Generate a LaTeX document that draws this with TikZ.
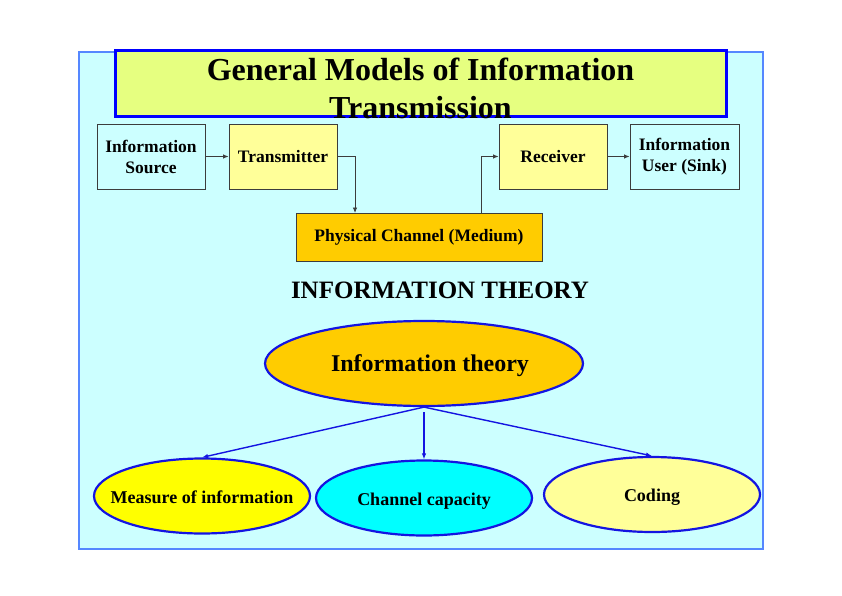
\documentclass[tikz,border=0pt]{standalone}
\usepackage{fontspec}
\setmainfont{Liberation Serif}
\usetikzlibrary{shapes.geometric,arrows.meta}

\definecolor{panelfill}{RGB}{204,255,255}
\definecolor{paneledge}{RGB}{85,135,255}
\definecolor{titlefill}{RGB}{230,255,128}
\definecolor{titleedge}{RGB}{0,0,255}
\definecolor{paleyellow}{RGB}{255,255,153}
\definecolor{amber}{RGB}{255,204,0}
\definecolor{brightyellow}{RGB}{255,255,0}
\definecolor{aqua}{RGB}{0,255,255}
\definecolor{boxedge}{RGB}{60,60,60}
\definecolor{ovaledge}{RGB}{20,20,225}

% oval labels are set in a zero-width box so the ellipse keeps its given size
\newcommand{\ovaltext}[1]{\makebox[0pt]{#1}}

\tikzset{
  blockbox/.style={draw=boxedge, line width=0.9pt, minimum width=108pt, minimum height=65pt,
    inner sep=0pt, align=center, font=\bfseries\fontsize{17.5}{21}\selectfont},
  flow/.style={draw=boxedge, line width=0.8pt, -{Latex[length=5.5pt,width=4.5pt]}},
  oval/.style={ellipse, draw=ovaledge, line width=2.2pt, inner sep=0pt, text depth=0pt},
  smalloval/.style={oval, minimum width=216pt, minimum height=75pt, text height=14pt,
    font=\bfseries\fontsize{18}{21}\selectfont},
  branch/.style={draw=ovaledge, line width=1.4pt, -{Latex[length=6pt,width=4.5pt]}},
}

\begin{document}
\begin{tikzpicture}[x=1pt,y=-1pt]
\useasboundingbox (0,0) rectangle (842,596);

% background panel
\draw[fill=panelfill, draw=paneledge, line width=1.6pt] (79,52) rectangle (763,549);

% title banner
\node[draw=titleedge, fill=titlefill, line width=3pt, minimum width=611pt, minimum height=66pt,
      inner sep=0pt] (title) at (420.5,84) {};
\node[align=center, font=\bfseries\fontsize{32}{38}\selectfont, yshift=-4pt] (titletext)
      at (title.center) {General Models of Information\\Transmission};

% transmission chain
\node[blockbox, fill=panelfill]  (src)  at (151,156.5) {Information\\Source};
\node[blockbox, fill=paleyellow] (tx)   at (283,156.5) {Transmitter};
\node[blockbox, fill=paleyellow] (rx)   at (553,156.5) {Receiver};
\node[blockbox, fill=panelfill, minimum width=109pt] (sink) at (684.5,156.5) {Information\\User (Sink)};
\node[blockbox, fill=amber, minimum width=246pt, minimum height=48pt] (chan) at (419,237) {Physical Channel (Medium)};

\coordinate (chanin)  at (355,213);
\coordinate (chanout) at (481,213);

\draw[flow] (src.east) -- (tx.west);
\draw[flow] (tx.east) -| (chanin);
\draw[flow] (chanout) |- (rx.west);
\draw[flow] (rx.east) -- (sink.west);

% section heading
\node[font=\bfseries\fontsize{25}{29}\selectfont] (heading) at (440,290) {INFORMATION THEORY};

% information theory tree
\node[oval, fill=amber, minimum width=318pt, minimum height=85pt, text height=16.5pt,
      font=\bfseries\fontsize{24}{28}\selectfont] (theory) at (424,363.5)
      {\ovaltext{\hspace*{12pt}Information theory}};

\node[smalloval, fill=brightyellow] (measure)  at (202,496) {\ovaltext{Measure of information}};
\node[smalloval, fill=aqua]         (capacity) at (424,498) {\ovaltext{Channel capacity}};
\node[smalloval, fill=paleyellow]   (coding)   at (652,494.5) {\ovaltext{Coding}};

\draw[branch] (theory.south) -- (measure.north);
\draw[branch, shorten <=5pt] (theory.south) -- (capacity.north);
\draw[branch] (theory.south) -- (coding.north);
\end{tikzpicture}
\end{document}
